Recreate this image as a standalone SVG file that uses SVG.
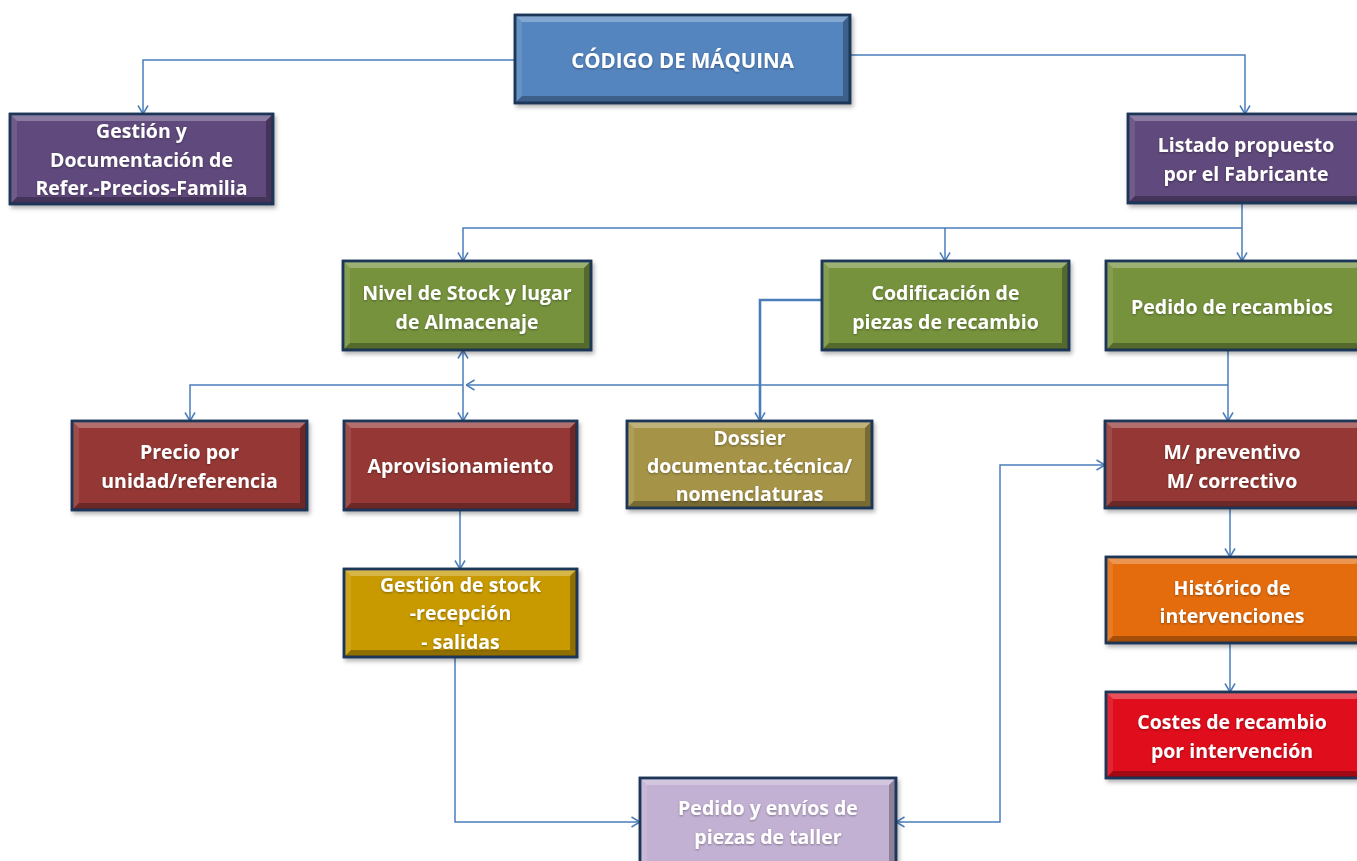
<svg xmlns="http://www.w3.org/2000/svg" width="1357" height="861" viewBox="0 0 1357 861">
  <defs>
    <filter id="shadow" x="-10%" y="-10%" width="120%" height="130%">
      <feDropShadow dx="2" dy="3" stdDeviation="2" flood-color="#000" flood-opacity="0.3"/>
    </filter>
    <filter id="glow" x="-5%" y="-20%" width="110%" height="140%">
      <feDropShadow dx="0" dy="1" stdDeviation="1" flood-color="#000" flood-opacity="0.35"/>
    </filter>
    <marker id="arrow" viewBox="0 0 10 12" refX="9.5" refY="6" markerWidth="10" markerHeight="12" markerUnits="userSpaceOnUse" orient="auto-start-reverse">
      <path d="M1,1 L9.5,6 L1,11" fill="none" stroke="#4A7DBA" stroke-width="1.5"/>
    </marker>
  </defs>
  <style>
    .box { stroke: #1B3657; stroke-width: 2.5; }
    .hi { fill: #fff; fill-opacity: 0.28; }
    .hl { fill: #fff; fill-opacity: 0.1; }
    .sh { fill: #000; fill-opacity: 0.28; }
    .lbl { font-family: "Open Sans", Lato, "Liberation Sans", sans-serif; font-weight: bold; font-size: 19.5px; fill: #fff; text-anchor: middle; filter: url(#glow); }
    .conn { fill: none; stroke: #4A7DBA; stroke-width: 1.5; }
    .thick { stroke-width: 2.6; }
  </style>

  <rect width="1357" height="861" fill="#fff"/>

  <!-- connectors -->
  <g id="connectors">
    <path class="conn" d="M515,60 H143 V114" marker-end="url(#arrow)"/>
    <path class="conn" d="M850,55 H1245 V114" marker-end="url(#arrow)"/>
    <path class="conn" d="M1242,203 V261" marker-end="url(#arrow)"/>
    <path class="conn" d="M1242,228 H463 V261" marker-end="url(#arrow)"/>
    <path class="conn" d="M945,228 V261" marker-end="url(#arrow)"/>
    <path class="conn" d="M1228,350 V421" marker-end="url(#arrow)"/>
    <path class="conn" d="M1228,385 H466" marker-end="url(#arrow)"/>
    <path class="conn" d="M463,385 H190 V421" marker-end="url(#arrow)"/>
    <path class="conn" d="M463,350 V421" marker-start="url(#arrow)" marker-end="url(#arrow)"/>
    <path class="conn thick" d="M822,300 H760 V421" marker-end="url(#arrow)"/>
    <path class="conn" d="M460,510 V569" marker-end="url(#arrow)"/>
    <path class="conn" d="M455,657 V822 H640" marker-end="url(#arrow)"/>
    <path class="conn" d="M896,822 H1000 V465 H1105" marker-start="url(#arrow)" marker-end="url(#arrow)"/>
    <path class="conn" d="M1230,508 V557" marker-end="url(#arrow)"/>
    <path class="conn" d="M1230,643 V692" marker-end="url(#arrow)"/>
  </g>

  <!-- CÓDIGO DE MÁQUINA -->
  <g id="codigo" transform="translate(515,15)">
    <rect class="box" width="335" height="88" fill="#5585BF" filter="url(#shadow)"/>
    <polygon class="hi" points="0,0 335,0 328,7 7,7"/>
    <polygon class="hl" points="0,0 7,7 7,81 0,88"/>
    <polygon class="sh" points="335,0 335,88 328,81 328,7"/>
    <polygon class="sh" points="0,88 7,81 328,81 335,88"/>
    <rect class="box" width="335" height="88" fill="none"/>
    <text class="lbl" x="167.5" y="53" style="font-size:20.5px">CÓDIGO DE MÁQUINA</text>
  </g>

  <!-- Gestión y Documentación -->
  <g id="gestion-doc" transform="translate(10,114)">
    <rect class="box" width="263" height="90" fill="#604A7B" filter="url(#shadow)"/>
    <polygon class="hi" points="0,0 263,0 256,7 7,7"/>
    <polygon class="hl" points="0,0 7,7 7,83 0,90"/>
    <polygon class="sh" points="263,0 263,90 256,83 256,7"/>
    <polygon class="sh" points="0,90 7,83 256,83 263,90"/>
    <rect class="box" width="263" height="90" fill="none"/>
    <text class="lbl" x="131.5" y="24">Gestión y</text>
    <text class="lbl" x="131.5" y="53">Documentación de</text>
    <text class="lbl" x="131.5" y="81">Refer.-Precios-Familia</text>
  </g>

  <!-- Listado propuesto -->
  <g id="listado" transform="translate(1128,114)">
    <rect class="box" width="235" height="89" fill="#604A7B" filter="url(#shadow)"/>
    <polygon class="hi" points="0,0 235,0 228,7 7,7"/>
    <polygon class="hl" points="0,0 7,7 7,82 0,89"/>
    <polygon class="sh" points="0,89 7,82 228,82 235,89"/>
    <rect class="box" width="235" height="89" fill="none"/>
    <text class="lbl" x="118" y="38">Listado propuesto</text>
    <text class="lbl" x="118" y="67">por el Fabricante</text>
  </g>

  <!-- Nivel de Stock -->
  <g id="nivel-stock" transform="translate(343,261)">
    <rect class="box" width="248" height="89" fill="#76923C" filter="url(#shadow)"/>
    <polygon class="hi" points="0,0 248,0 241,7 7,7"/>
    <polygon class="hl" points="0,0 7,7 7,82 0,89"/>
    <polygon class="sh" points="248,0 248,89 241,82 241,7"/>
    <polygon class="sh" points="0,89 7,82 241,82 248,89"/>
    <rect class="box" width="248" height="89" fill="none"/>
    <text class="lbl" x="124" y="39">Nivel de Stock y lugar</text>
    <text class="lbl" x="124" y="68">de Almacenaje</text>
  </g>

  <!-- Codificación -->
  <g id="codificacion" transform="translate(822,261)">
    <rect class="box" width="247" height="89" fill="#76923C" filter="url(#shadow)"/>
    <polygon class="hi" points="0,0 247,0 240,7 7,7"/>
    <polygon class="hl" points="0,0 7,7 7,82 0,89"/>
    <polygon class="sh" points="247,0 247,89 240,82 240,7"/>
    <polygon class="sh" points="0,89 7,82 240,82 247,89"/>
    <rect class="box" width="247" height="89" fill="none"/>
    <text class="lbl" x="123.5" y="39">Codificación de</text>
    <text class="lbl" x="123.5" y="68">piezas de recambio</text>
  </g>

  <!-- Pedido de recambios -->
  <g id="pedido-recambios" transform="translate(1106,261)">
    <rect class="box" width="257" height="89" fill="#76923C" filter="url(#shadow)"/>
    <polygon class="hi" points="0,0 257,0 250,7 7,7"/>
    <polygon class="hl" points="0,0 7,7 7,82 0,89"/>
    <polygon class="sh" points="0,89 7,82 250,82 257,89"/>
    <rect class="box" width="257" height="89" fill="none"/>
    <text class="lbl" x="126" y="53">Pedido de recambios</text>
  </g>

  <!-- Precio por unidad -->
  <g id="precio" transform="translate(72,421)">
    <rect class="box" width="235" height="89" fill="#953735" filter="url(#shadow)"/>
    <polygon class="hi" points="0,0 235,0 228,7 7,7"/>
    <polygon class="hl" points="0,0 7,7 7,82 0,89"/>
    <polygon class="sh" points="235,0 235,89 228,82 228,7"/>
    <polygon class="sh" points="0,89 7,82 228,82 235,89"/>
    <rect class="box" width="235" height="89" fill="none"/>
    <text class="lbl" x="117.5" y="38">Precio por</text>
    <text class="lbl" x="117.5" y="67">unidad/referencia</text>
  </g>

  <!-- Aprovisionamiento -->
  <g id="aprovisionamiento" transform="translate(344,421)">
    <rect class="box" width="233" height="89" fill="#953735" filter="url(#shadow)"/>
    <polygon class="hi" points="0,0 233,0 226,7 7,7"/>
    <polygon class="hl" points="0,0 7,7 7,82 0,89"/>
    <polygon class="sh" points="233,0 233,89 226,82 226,7"/>
    <polygon class="sh" points="0,89 7,82 226,82 233,89"/>
    <rect class="box" width="233" height="89" fill="none"/>
    <text class="lbl" x="116.5" y="52">Aprovisionamiento</text>
  </g>

  <!-- Dossier -->
  <g id="dossier" transform="translate(627,421)">
    <rect class="box" width="245" height="87" fill="#A59346" filter="url(#shadow)"/>
    <polygon class="hi" points="0,0 245,0 238,7 7,7"/>
    <polygon class="hl" points="0,0 7,7 7,80 0,87"/>
    <polygon class="sh" points="245,0 245,87 238,80 238,7"/>
    <polygon class="sh" points="0,87 7,80 238,80 245,87"/>
    <rect class="box" width="245" height="87" fill="none"/>
    <text class="lbl" x="122.5" y="24">Dossier</text>
    <text class="lbl" x="122.5" y="52">documentac.técnica/</text>
    <text class="lbl" x="122.5" y="80">nomenclaturas</text>
  </g>

  <!-- M/ preventivo -->
  <g id="mantenimiento" transform="translate(1105,421)">
    <rect class="box" width="258" height="87" fill="#953735" filter="url(#shadow)"/>
    <polygon class="hi" points="0,0 258,0 251,7 7,7"/>
    <polygon class="hl" points="0,0 7,7 7,80 0,87"/>
    <polygon class="sh" points="0,87 7,80 251,80 258,87"/>
    <rect class="box" width="258" height="87" fill="none"/>
    <text class="lbl" x="127" y="38">M/ preventivo</text>
    <text class="lbl" x="127" y="67">M/ correctivo</text>
  </g>

  <!-- Gestión de stock -->
  <g id="gestion-stock" transform="translate(344,569)">
    <rect class="box" width="233" height="88" fill="#C89A04" filter="url(#shadow)"/>
    <polygon class="hi" points="0,0 233,0 226,7 7,7"/>
    <polygon class="hl" points="0,0 7,7 7,81 0,88"/>
    <polygon class="sh" points="233,0 233,88 226,81 226,7"/>
    <polygon class="sh" points="0,88 7,81 226,81 233,88"/>
    <rect class="box" width="233" height="88" fill="none"/>
    <text class="lbl" x="116.5" y="23">Gestión de stock</text>
    <text class="lbl" x="116.5" y="51">-recepción</text>
    <text class="lbl" x="116.5" y="80">- salidas</text>
  </g>

  <!-- Histórico -->
  <g id="historico" transform="translate(1106,557)">
    <rect class="box" width="257" height="86" fill="#E46C0A" filter="url(#shadow)"/>
    <polygon class="hi" points="0,0 257,0 250,7 7,7"/>
    <polygon class="hl" points="0,0 7,7 7,79 0,86"/>
    <polygon class="sh" points="0,86 7,79 250,79 257,86"/>
    <rect class="box" width="257" height="86" fill="none"/>
    <text class="lbl" x="126" y="38">Histórico de</text>
    <text class="lbl" x="126" y="66">intervenciones</text>
  </g>

  <!-- Costes de recambio -->
  <g id="costes" transform="translate(1106,692)">
    <rect class="box" width="257" height="86" fill="#E0101B" filter="url(#shadow)"/>
    <polygon class="hi" points="0,0 257,0 250,7 7,7"/>
    <polygon class="hl" points="0,0 7,7 7,79 0,86"/>
    <polygon class="sh" points="0,86 7,79 250,79 257,86"/>
    <rect class="box" width="257" height="86" fill="none"/>
    <text class="lbl" x="126" y="37">Costes de recambio</text>
    <text class="lbl" x="126" y="66">por intervención</text>
  </g>

  <!-- Pedido y envíos -->
  <g id="pedido-envios" transform="translate(640,778)">
    <rect class="box" width="256" height="90" fill="#C3B1D3" filter="url(#shadow)"/>
    <polygon class="hi" points="0,0 256,0 249,7 7,7"/>
    <polygon class="hl" points="0,0 7,7 7,90 0,90"/>
    <polygon class="sh" points="256,0 256,90 249,90 249,7"/>
    <rect class="box" width="256" height="90" fill="none"/>
    <text class="lbl" x="128" y="37">Pedido y envíos de</text>
    <text class="lbl" x="128" y="66">piezas de taller</text>
  </g>
</svg>
